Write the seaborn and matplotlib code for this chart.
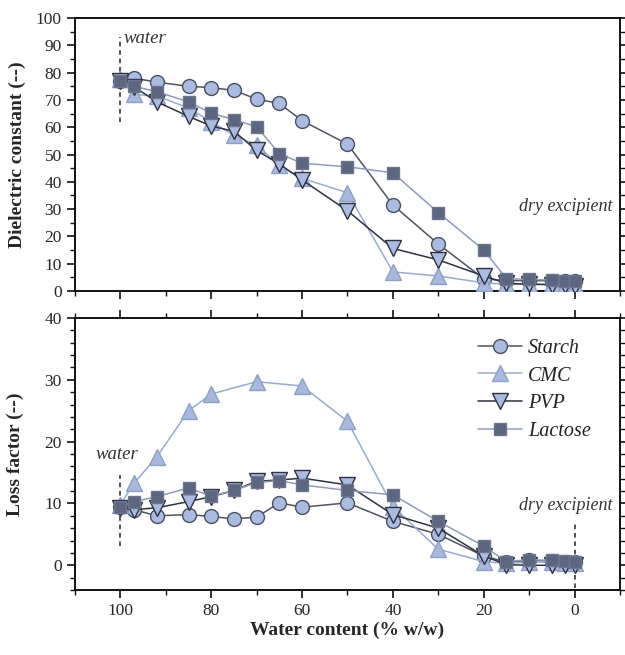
import matplotlib
matplotlib.use("Agg")
import matplotlib.pyplot as plt
from matplotlib.ticker import MultipleLocator
from matplotlib.lines import Line2D
import seaborn as sns
import pandas as pd

sns.set_theme(style="ticks")
plt.rcParams['font.family'] = ['Liberation Serif', 'DejaVu Serif']
plt.rcParams['mathtext.fontset'] = 'stix'

# ---------------- data ----------------
series_names = ["Starch", "CMC", "PVP", "Lactose"]

x_full = [100, 97, 92, 85, 80, 75, 70, 65, 60, 50, 40, 30, 20, 15, 10, 5, 2, 0]
x_cmc_loss = [100, 97, 92, 85, 80, 70, 60, 50, 40, 30, 20, 15, 10, 5, 2, 0]

# Dielectric constant (top panel)
starch_eps = [77, 78, 76.5, 75, 74.5, 73.5, 70.3, 68.7, 62.4, 53.8, 31.5, 17.2, 4.5, 3.8, 3.8, 3.8, 3.6, 3.5]
cmc_eps = [77.5, 72, 71.5, 67, 62, 57, 53.5, 46, 41.3, 36, 7, 5.5, 3, 2.5, 2.5, 2.5, 2.3, 2.2]
pvp_eps = [77, 74.8, 69.3, 64, 60.4, 58.5, 51.5, 46.5, 40.7, 29.4, 15.6, 11.4, 5.5, 2.8, 2.5, 2.3, 2.2, 2.0]
lactose_eps = [77, 75, 73, 69.3, 65.1, 62.8, 60.2, 50.3, 46.8, 45.5, 43.3, 28.7, 15, 4.5, 4.3, 4.0, 3.8, 3.6]

# Loss factor (bottom panel)
starch_loss = [9.5, 9.0, 8.0, 8.2, 7.9, 7.5, 7.8, 10.1, 9.4, 10.1, 7.1, 5.0, 1.5, 0.5, 0.8, 0.7, 0.6, 0.5]
cmc_loss = [9.8, 13.3, 17.5, 25, 27.7, 29.7, 29, 23.3, 9.5, 2.6, 0.6, 0.3, 0.5, 0.5, 0.4, 0.3]
pvp_loss = [9.3, 9.0, 9.3, 10.3, 11.1, 12.1, 13.6, 13.8, 14.1, 13.0, 8.2, 6.0, 1.5, 0.1, 0.0, 0.0, 0.0, 0.0]
lactose_loss = [9.5, 10.3, 11.1, 12.5, 11.2, 12.1, 13.4, 13.7, 13.0, 12.1, 11.4, 7.1, 3.1, 0.6, 0.9, 0.8, 0.7, 0.6]

eps_ticks = [0, 10, 20, 30, 40, 50, 60, 70, 80, 90, 100]
loss_ticks = [0, 10, 20, 30, 40]
x_ticks = [100, 80, 60, 40, 20, 0]

# ---------------- styles ----------------
styles = {
    "Starch":  dict(marker="o", mfc="#a9bbe3", mec="#4a4f60", line="#4f5360", ms=10),
    "CMC":     dict(marker="^", mfc="#a8b9e0", mec="#8d9fc6", line="#9aabcc", ms=11),
    "PVP":     dict(marker="v", mfc="#a9bbe3", mec="#2e3140", line="#2e3140", ms=11),
    "Lactose": dict(marker="s", mfc="#5c6680", mec="#6c7690", line="#8f9bb5", ms=9),
}

top_data = {
    "Starch": (x_full, starch_eps),
    "CMC": (x_full, cmc_eps),
    "PVP": (x_full, pvp_eps),
    "Lactose": (x_full, lactose_eps),
}
bot_data = {
    "Starch": (x_full, starch_loss),
    "CMC": (x_cmc_loss, cmc_loss),
    "PVP": (x_full, pvp_loss),
    "Lactose": (x_full, lactose_loss),
}

fig = plt.figure(figsize=(6.25, 6.55), dpi=100)
ax1 = fig.add_axes([0.12, 0.5557, 0.872, 0.4168])
ax2 = fig.add_axes([0.12, 0.0992, 0.872, 0.4153])

draw_order = ["Starch", "CMC", "PVP", "Lactose"]
for ax, data in ((ax1, top_data), (ax2, bot_data)):
    for name in draw_order:
        xs, ys = data[name]
        st = styles[name]
        df = pd.DataFrame({"x": xs, "y": ys})
        sns.lineplot(data=df, x="x", y="y", ax=ax, color=st["line"], lw=1.1,
                     marker=st["marker"], markersize=st["ms"],
                     markerfacecolor=st["mfc"], markeredgecolor=st["mec"],
                     markeredgewidth=1.0, errorbar=None, sort=False, zorder=3)

for ax in (ax1, ax2):
    ax.set_xlim(110, -10)
    ax.set_xlabel("")
    ax.set_ylabel("")
    for sp in ax.spines.values():
        sp.set_visible(True)
        sp.set_linewidth(1.4)
        sp.set_color("#111111")
    ax.xaxis.set_major_locator(MultipleLocator(20))
    ax.xaxis.set_minor_locator(MultipleLocator(10))

# top panel
ax1.set_ylim(0, 100)
ax1.set_yticks(eps_ticks)
ax1.yaxis.set_minor_locator(MultipleLocator(5))
ax1.tick_params(axis="both", which="both", direction="out", color="#111111",
                labelsize=12.5, left=True, right=True, top=False, bottom=True,
                labelbottom=False, labelleft=True)
ax1.tick_params(which="major", length=6, width=1.2)
ax1.tick_params(which="minor", length=3.5, width=1.0)
ax1.set_xticks(x_ticks)
ax1.set_ylabel("Dielectric constant (--)", fontsize=14, fontweight="bold", labelpad=7)

# bottom panel
ax2.set_ylim(-4, 40)
ax2.set_yticks(loss_ticks)
ax2.yaxis.set_minor_locator(MultipleLocator(2))
ax2.tick_params(axis="both", which="both", direction="out", color="#111111",
                labelsize=12.5, left=True, right=True, top=True, bottom=True,
                labelbottom=True, labelleft=True)
ax2.tick_params(which="major", length=6, width=1.2)
ax2.tick_params(which="minor", length=3.5, width=1.0)
ax2.set_xticks(x_ticks)
ax2.set_xticklabels([str(v) for v in x_ticks])
ax2.set_ylabel("Loss factor (--)", fontsize=14, fontweight="bold", labelpad=15)
ax2.set_xlabel("Water content (% w/w)", fontsize=14, fontweight="bold", labelpad=2)

# annotations
ax1.plot([100, 100], [62, 93], ls=(0, (3, 2.5)), color="#222222", lw=1.1, zorder=2)
ax1.text(99.3, 92.5, "water", style="italic", fontsize=13.5, ha="left", va="center", color="#333333")
ax1.text(-8.3, 30.8, "dry excipient", style="italic", fontsize=13, ha="right", va="center", color="#333333")

ax2.plot([100, 100], [3.2, 14.6], ls=(0, (3, 2.5)), color="#222222", lw=1.1, zorder=2)
ax2.text(105.5, 18.0, "water", style="italic", fontsize=13.5, ha="left", va="center", color="#333333")
ax2.plot([0, 0], [-3.6, 7.0], ls=(0, (3, 2.5)), color="#222222", lw=1.1, zorder=2)
ax2.text(-8.3, 9.6, "dry excipient", style="italic", fontsize=13, ha="right", va="center", color="#333333")

handles = []
for name in series_names:
    st = styles[name]
    handles.append(Line2D([0], [0], color=st["line"], lw=1.1, marker=st["marker"],
                          markersize=st["ms"], markerfacecolor=st["mfc"],
                          markeredgecolor=st["mec"], markeredgewidth=1.0))
leg = ax2.legend(handles, series_names, loc="upper right", bbox_to_anchor=(0.98, 0.99),
                 frameon=False, handlelength=2.2, handletextpad=0.3, labelspacing=0.42,
                 prop=dict(family=['Liberation Serif', 'DejaVu Serif'], style="italic", size=14.5))
for t in leg.get_texts():
    t.set_color("#222222")

fig.savefig("out.png", dpi=100)
